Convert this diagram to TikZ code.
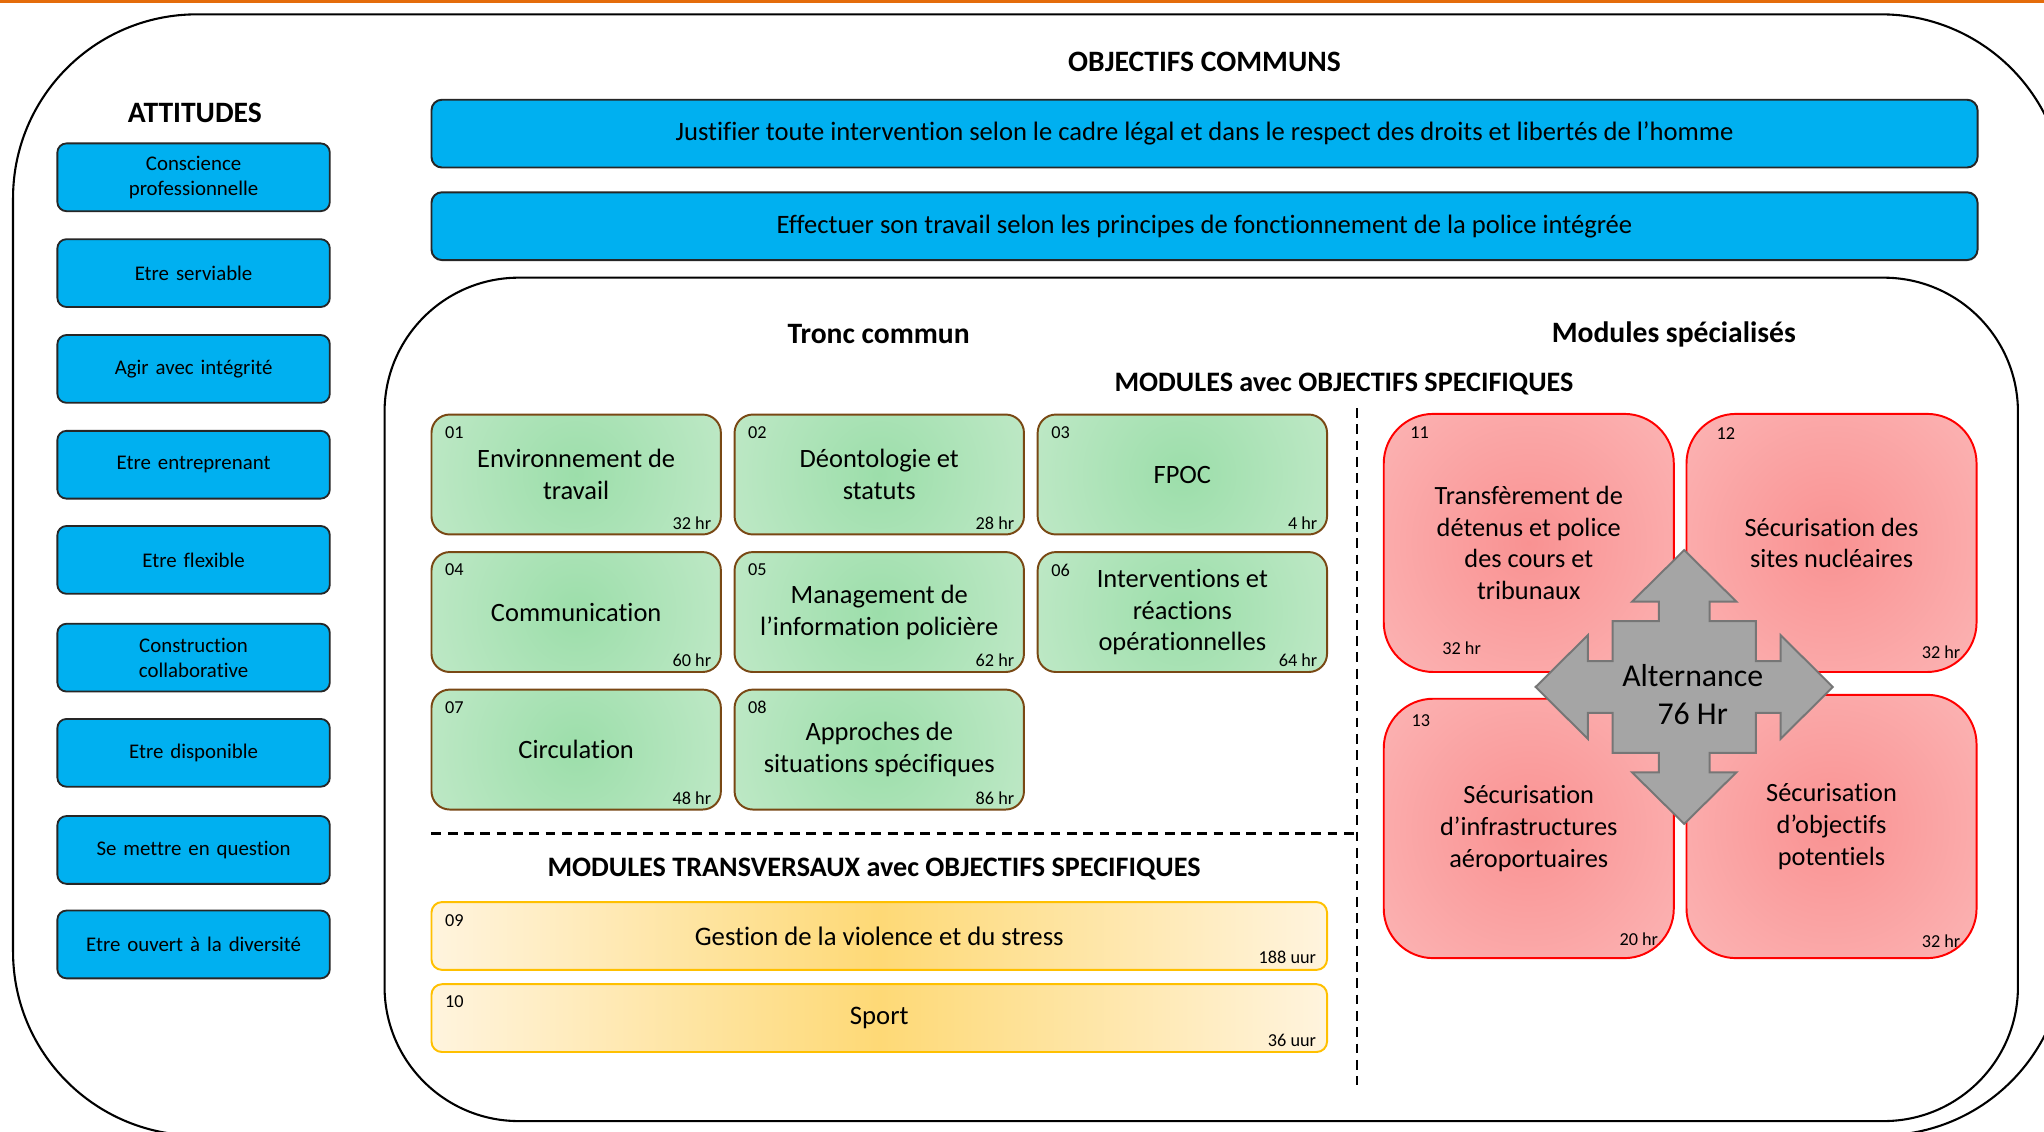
\documentclass[tikz,border=0pt]{standalone}
\usepackage{fontspec}
\setmainfont{Carlito}[Ligatures=NoCommon]
\usetikzlibrary{calc}
\definecolor{cblue}{RGB}{0,176,240}
\definecolor{orangeline}{RGB}{228,108,10}
\definecolor{gbrown}{RGB}{121,72,20}
\definecolor{gin}{RGB}{156,222,170}
\definecolor{gout}{RGB}{222,242,224}
\definecolor{rin}{RGB}{249,146,146}
\definecolor{rout}{RGB}{254,214,214}
\definecolor{yin}{RGB}{254,217,118}
\definecolor{yout}{RGB}{255,244,222}
\definecolor{ygold}{RGB}{255,192,0}
\definecolor{agray}{RGB}{165,165,165}
\definecolor{agrayd}{RGB}{118,118,118}
\pgfdeclareradialshading{gshade}{\pgfpoint{0bp}{0bp}}{color(0bp)=(gin); color(50bp)=(gout)}
\pgfdeclareradialshading{rshade}{\pgfpoint{0bp}{0bp}}{color(0bp)=(rin); color(50bp)=(rout)}
\begin{document}
\begin{tikzpicture}[x=1pt,y=-1pt,
  frame/.style={draw=black, line width=1.6pt, rounded corners=#1},
  hd/.style={font=\fontsize{22.7}{26}\selectfont\bfseries, inner sep=0pt},
  hdm/.style={font=\fontsize{21.6}{25}\selectfont\bfseries, inner sep=0pt},
  att/.style={draw=black!85, line width=1.4pt, fill=cblue, rounded corners=7pt,
    minimum width=209pt, minimum height=52pt, text width=200pt, align=center,
    inner sep=0pt, font=\fontsize{16}{19.3}\selectfont},
  obj/.style={draw=black!85, line width=1.5pt, fill=cblue, rounded corners=8pt,
    minimum width=1186pt, minimum height=52pt, inner sep=0pt,
    font=\fontsize{20.4}{23}\selectfont},
  gbox/.style={draw=gbrown, line width=1.5pt, rounded corners=14pt, fill=gout,
    path picture={\shade[shading=gshade] (path picture bounding box.center) circle (118pt);},
    minimum width=222pt, minimum height=92pt, align=center, inner sep=0pt,
    font=\fontsize{20.3}{24.5}\selectfont},
  rbox/.style={draw=red, line width=1.5pt, rounded corners=38pt, fill=rout,
    path picture={\shade[shading=rshade] (path picture bounding box.center) circle (150pt);},
    minimum width=222.5pt, align=center, inner sep=0pt,
    font=\fontsize{20.2}{24.4}\selectfont},
  ybox/.style={draw=ygold, line width=1.5pt, rounded corners=8pt,
    left color=yout, right color=yout, middle color=yin,
    minimum width=687pt, minimum height=52pt, inner sep=0pt,
    font=\fontsize{20.5}{24}\selectfont},
  small/.style={font=\fontsize{14}{16}\selectfont, inner sep=0pt},
  dashline/.style={draw=black, line width=2pt, dash pattern=on 7.5pt off 5pt}
]
\useasboundingbox (0,0) rectangle (1568,868);
\fill[white] (0,0) rectangle (1568,868);
\fill[orangeline] (0,0) rectangle (1568,2.6);

% frames
\draw[frame=141pt] (10,11) rectangle (1584,871);
\draw[frame=103pt] (295,213) rectangle (1548,860);

% headings
\node[hd] (hobj) at (924,47.5) {OBJECTIFS COMMUNS};
\node[hd] (hatt) at (149.5,86.5) {ATTITUDES};
\node[hd] (htc) at (674,256.5) {Tronc commun};
\node[hd] (hms) at (1284,256.5) {Modules spécialisés};
\node[hdm] (hmos) at (1031,294.5) {MODULES avec OBJECTIFS SPECIFIQUES};
\node[hdm] (hmt) at (670.5,667) {MODULES TRANSVERSAUX avec OBJECTIFS SPECIFIQUES};

% objectifs communs
\node[obj] (o1) at (924,102.5) {Justifier toute intervention selon le cadre légal et dans le respect des droits et libertés de l’homme};
\node[obj] (o2) at (924,173.5) {Effectuer son travail selon les principes de fonctionnement de la police intégrée};

% attitudes
\node[att] (a1) at (148.5,136) {Conscience\\professionnelle};
\node[att] (a2) at (148.5,209.5) {Etre serviable};
\node[att] (a3) at (148.5,283) {Agir avec intégrité};
\node[att] (a4) at (148.5,356.5) {Etre entreprenant};
\node[att] (a5) at (148.5,429.5) {Etre flexible};
\node[att] (a6) at (148.5,504.5) {Construction\\collaborative};
\node[att] (a7) at (148.5,577.5) {Etre disponible};
\node[att] (a8) at (148.5,652) {Se mettre en question};
\node[att] (a9) at (148.5,724.5) {Etre ouvert à la diversité};

% tronc commun
\node[gbox] (m01) at (442,364) {Environnement de\\travail};
\node[gbox] (m02) at (674.5,364) {Déontologie et\\statuts};
\node[gbox] (m03) at (907,364) {FPOC};
\node[gbox] (m04) at (442,469.5) {Communication};
\node[gbox] (m05) at (674.5,469.5) {Management de\\l’information policière};
\node[gbox] (m06) at (907,469.5) {Interventions et\\réactions\\opérationnelles};
\node[gbox] (m07) at (442,575) {Circulation};
\node[gbox] (m08) at (674.5,575) {Approches de\\situations spécifiques};
\foreach \m/\n/\h in {m01/01/32 hr, m02/02/28 hr, m03/03/4 hr, m04/04/60 hr, m05/05/62 hr, m06/06/64 hr, m07/07/48 hr, m08/08/86 hr}{
  \node[small, anchor=west] (\m n) at ($(\m.north west)+(11,14.5)$) {\n};
  \node[small, anchor=east] (\m h) at ($(\m.south east)+(-8,-9.5)$) {\h};
}

% dashed separators
\coordinate (dv1) at (1041,313);
\coordinate (dv2) at (1041,832);
\coordinate (dh1) at (331,639.5);
\coordinate (dh2) at (1041,639.5);
\draw[dashline] (dv1) -- (dv2);
\draw[dashline] (dh1) -- (dh2);

% transversaux
\node[ybox] (y09) at (674.5,718) {Gestion de la violence et du stress};
\node[ybox] (y10) at (674.5,781) {Sport};
\node[small, anchor=west] (y09n) at ($(y09.north west)+(11,15)$) {09};
\node[small, anchor=east] (y09h) at ($(y09.south east)+(-9,-10)$) {188 uur};
\node[small, anchor=west] (y10n) at ($(y10.north west)+(11,14)$) {10};
\node[small, anchor=east] (y10h) at ($(y10.south east)+(-9,-10)$) {36 uur};

% modules specialises
\node[rbox, minimum height=198pt] (r11) at (1172.75,416.5) {Transfèrement de\\détenus et police\\des cours et\\tribunaux};
\node[rbox, minimum height=198pt] (r12) at (1405,416.5) {Sécurisation des\\sites nucléaires};
\node[rbox, minimum height=199pt] (r13) at (1172.75,635.5) {Sécurisation\\d’infrastructures\\aéroportuaires};
\node[rbox, minimum height=202pt] (r14) at (1405,634) {Sécurisation\\d’objectifs\\potentiels};
\node[small, anchor=west] (r11n) at ($(r11.north west)+(21,15.2)$) {11};
\node[small, anchor=west] (r12n) at ($(r12.north west)+(23.7,15.6)$) {12};
\node[small, anchor=west] (r13n) at ($(r13.north west)+(22,17.8)$) {13};
\node[small, anchor=west] (r11h) at ($(r11.south west)+(45.5,-19.3)$) {32 hr};
\node[small, anchor=east] (r12h) at ($(r12.south east)+(-13,-15.7)$) {32 hr};
\node[small, anchor=east] (r13h) at ($(r13.south east)+(-12.6,-15.2)$) {20 hr};
\node[small, anchor=east] (r14h) at ($(r14.south east)+(-13,-14)$) {32 hr};

% quad arrow
\begin{scope}[shift={(1292,527)}]
\draw[fill=agray, draw=agrayd, line width=1.5pt, line join=miter]
  (0,-105) -- (40,-65.5) -- (19.5,-65.5) -- (19.5,-50.5) -- (55,-50.5) -- (55,-19.8)
  -- (74,-19.8) -- (74,-39.7) -- (114,0) -- (74,39.7) -- (74,19.8) -- (55,19.8)
  -- (55,50.5) -- (19.5,50.5) -- (19.5,65.5) -- (40,65.5) -- (0,105) -- (-40,65.5)
  -- (-19.5,65.5) -- (-19.5,50.5) -- (-55,50.5) -- (-55,19.8) -- (-74,19.8) -- (-74,39.7)
  -- (-114,0) -- (-74,-39.7) -- (-74,-19.8) -- (-55,-19.8) -- (-55,-50.5) -- (-19.5,-50.5)
  -- (-19.5,-65.5) -- (-40,-65.5) -- cycle;
\end{scope}
\node[font=\fontsize{24.4}{29.5}\selectfont, align=center, inner sep=0pt] (alt) at (1298.5,533) {Alternance\\76 Hr};
\end{tikzpicture}
\end{document}
